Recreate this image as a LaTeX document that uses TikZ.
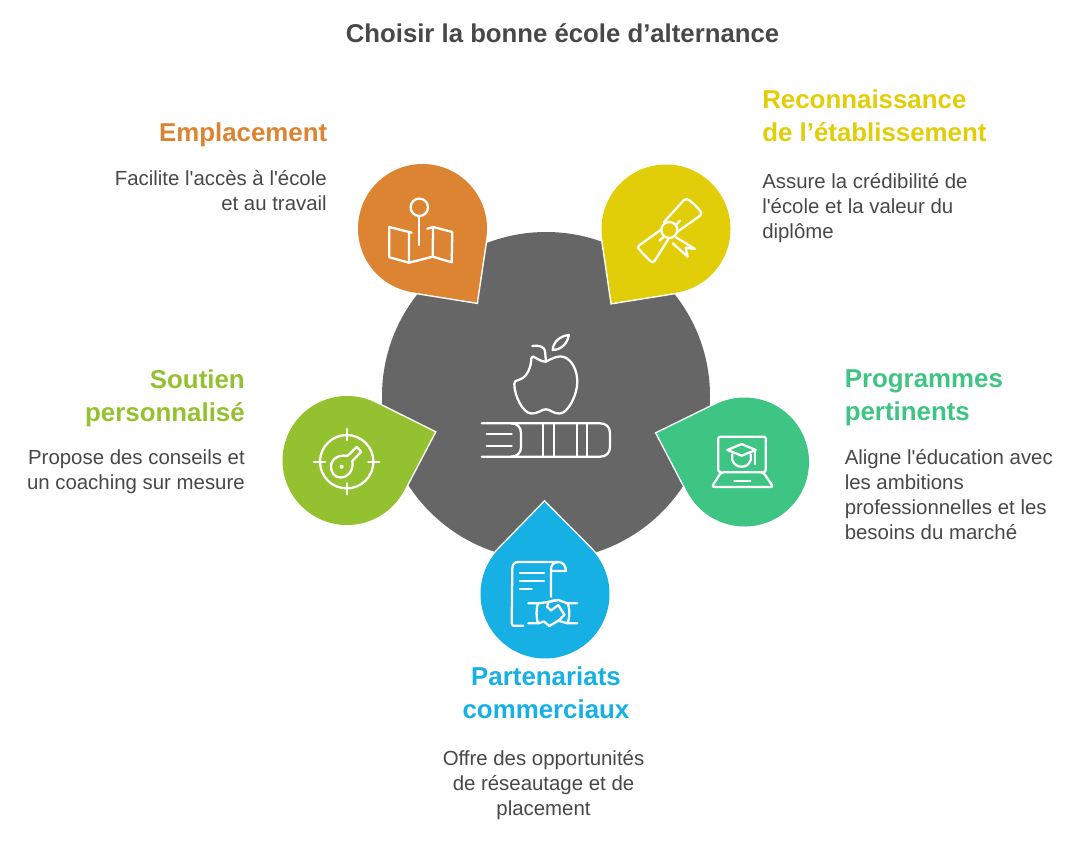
\documentclass[tikz,border=0pt]{standalone}
\usepackage{fontspec}
\newfontfamily\lab{Liberation Sans}
\definecolor{cgrey}{HTML}{666666}
\definecolor{ctext}{HTML}{484848}
\definecolor{corange}{HTML}{DD8432}
\definecolor{cyellow}{HTML}{E2CE08}
\definecolor{cgreen}{HTML}{94C12F}
\definecolor{cteal}{HTML}{3EC483}
\definecolor{cblue}{HTML}{16B0E4}
\usetikzlibrary{calc}
\newcommand{\tear}[5]{%
  \pgfmathsetmacro{\tang}{atan2(#4-#2,#3-#1)}
  \pgfmathsetmacro{\tstart}{\tang+45}
  \path[fill=#5,draw=white,line width=2.2pt,line join=miter,preaction={},postaction={}]
    (#3,#4) -- ($(#1,#2)+(\tstart:64.5)$) arc[start angle=\tstart,delta angle=270,radius=64.5] -- cycle;
  \path[fill=#5]
    (#3,#4) -- ($(#1,#2)+(\tstart:64.5)$) arc[start angle=\tstart,delta angle=270,radius=64.5] -- cycle;
}
\tikzset{
  ttl/.style={font=\lab\bfseries\fontsize{19.3}{23}\selectfont,text=ctext,inner sep=0pt},
  hd/.style={font=\lab\bfseries\fontsize{19.4}{24.75}\selectfont,inner sep=0pt},
  bd/.style={font=\lab\fontsize{15.3}{18.75}\selectfont,text=ctext,inner sep=0pt},
  ico/.style={draw=white,line width=1.7pt,line cap=round,line join=round},
}
\begin{document}
\begin{tikzpicture}[x=.75pt,y=-.75pt]
\useasboundingbox (0,0) rectangle (1089,842);
\fill[white] (0,0) rectangle (1089,842);
\node[ttl] (title) at (562.5,33) {Choisir la bonne école d’alternance};
\fill[cgrey] (546,396) circle[radius=164];
\tear{422.5}{228.5}{476.7}{302.5}{corange}
\tear{666}{229}{611.7}{303}{cyellow}
\tear{347}{460.5}{434.7}{432.2}{cgreen}
\tear{744.5}{462}{656.7}{433.2}{cteal}
\tear{545}{594}{544.5}{502}{cblue}
% orange map
\draw[ico] (419.3,207.3) circle[radius=8.7];
\draw[ico] (419.3,216.3) -- (419.3,245);
\draw[ico] (411.7,232.7) -- (389.3,227) -- (389.3,257.3) -- (409,262.7) -- (409,231.7);
\draw[ico] (409,262.7) -- (432.7,256.7) -- (451.7,262.3) -- (452.3,232) -- (433.3,227) -- (427.3,228.7);
\draw[ico] (433,227) -- (432.7,256.7);
% yellow diploma
\draw[ico] (669.3,230) circle[radius=8];
\draw[ico] (664,222) -- (684,200) .. controls (686,198.5) and (687,199) .. (689,200) .. controls (694,204) and (698,208) .. (701,212) .. controls (702,214) and (701,215) .. (699,216.5) -- (677,232);
\draw[ico] (661.5,229.3) -- (639,245.5) .. controls (637.5,247) and (638,248) .. (639,249) .. controls (643,254) and (647,258) .. (651,261.5) .. controls (652.5,262.5) and (653.5,262) .. (654.5,261) -- (668.5,239);
\draw[ico] (676,237.3) -- (695,249) -- (685.7,247.7) -- (687.7,256.7) -- (672.7,243.3);
\draw[ico] (680,220.7) -- (676,225);
\draw[ico] (659.3,240.7) -- (663.3,237.3);
% centre icon
\draw[ico] (532.3,346) .. controls (540,345) and (544,347) .. (545,351) -- (546,361.7);
\draw[ico] (552.7,350) .. controls (553,342) and (560,336) .. (568.7,335) .. controls (568,343) and (561,350) .. (552.7,350) -- cycle;
\draw[ico] (546,361.7) .. controls (552,358) and (560,355) .. (564,357) .. controls (572,360) and (577.3,370) .. (577.3,382)
  .. controls (577.3,395) and (568,413) .. (560,413.5) .. controls (553,414) and (550,409) .. (546,409.3)
  .. controls (542,409) and (538,414) .. (531,413.5) .. controls (523,413) and (514.3,396) .. (514.3,384)
  .. controls (514.3,382) and (515,381) .. (518.3,380) .. controls (526,378) and (530,370) .. (531,362)
  .. controls (531,359) and (531.5,357) .. (532.7,356.5) .. controls (537,358) and (541,362) .. (546,361.7);
\draw[ico] (481.7,423.3) -- (600,423.3) .. controls (606,423.3) and (610,427) .. (610,433) -- (610,447)
  .. controls (610,453) and (606,456.7) .. (600,456.7) -- (481.7,456.7);
\draw[ico] (511,423.3) .. controls (517,423.3) and (521,427) .. (521,433) -- (521,447) .. controls (521,453) and (517,456.7) .. (511,456.7);
\draw[ico] (486.7,434.3) -- (511.7,434.3);
\draw[ico] (486.7,445.7) -- (511.7,445.7);
\foreach \vx in {543.3,554.3,576.7,586.7} \draw[ico] (\vx,423.3) -- (\vx,456.7);
% green target key
\draw[ico] (346.7,461.7) circle[radius=26.7];
\draw[ico] (346.7,429) -- (346.7,440);
\draw[ico] (346.7,483.3) -- (346.7,494.3);
\draw[ico] (314,461.7) -- (325,461.7);
\draw[ico] (368.3,461.7) -- (379.3,461.7);
\draw[ico] (347.3,456) -- (356.7,447) -- (361.3,451.7) -- (352.3,461)
  .. controls (354,470) and (348,477.5) .. (340.5,477.5) .. controls (334,477.5) and (331,472) .. (331,466.5)
  .. controls (331,459) and (339,454) .. (347.3,456);
\fill[white] (341.7,466.7) circle[radius=2];
% teal laptop
\draw[ico,rounded corners=1.5pt] (721,472) -- (718.3,472) -- (718.3,436.7) -- (765.7,436.7) -- (765.7,472) -- (763,472);
\draw[ico,rounded corners=2pt] (721,472.3) -- (763.3,472.3) -- (773.3,487) -- (711.7,487) -- cycle;
\draw[ico] (734.3,481) -- (750.3,481);
\draw[ico] (727.3,450) -- (741.7,444) -- (755.7,450) -- (741.7,455.7) -- cycle;
\draw[ico] (732.3,454.3) -- (732.3,460) .. controls (734,465) and (738,466.7) .. (741.7,466.7) .. controls (745.5,466.7) and (749,465) .. (750.7,460) -- (750.7,454.3);
\draw[ico] (755,450) -- (755,464);
% blue contract
\draw[ico] (523.3,625.7) -- (514,625.7) .. controls (512.5,625.7) and (511.7,625) .. (511.7,623) -- (512.3,568.3)
  .. controls (512.3,564) and (515,562) .. (518.3,562) -- (558.3,562) .. controls (563,562) and (566,566) .. (566,571) -- (551,571);
\draw[ico] (558.3,562) .. controls (554,562) and (551,565) .. (551,569) -- (551,596.7);
\draw[ico] (520,572.7) -- (544,572.7);
\draw[ico] (520,581) -- (544,581);
\draw[ico] (520,589.3) -- (531.7,589.3);
\draw[ico] (528.3,603.3) -- (538.3,603.3) .. controls (536,607) and (536,619) .. (538.3,623.3) -- (528.3,623.3);
\draw[ico] (577.3,603.3) -- (567.3,603.3) .. controls (570,607) and (570,619) .. (567.3,623.3) -- (577.3,623.3);
\draw[ico] (538.3,603.3) -- (548.3,602) .. controls (552,601) and (555,599.5) .. (558.3,600) -- (567.3,603.3);
\draw[ico] (538.3,623.3) -- (544,621.5) -- (549.3,626) -- (558.3,620.7) -- (567.3,623.3);
\draw[ico] (558.3,600) -- (548.5,602) -- (547,606.7) -- (551,610.5) -- (558.3,605) -- (564.5,615) -- (558.3,620.7);
% labels
\node[hd,text=corange,anchor=north east,align=right] (h1) at (327.5,122) {Emplacement};
\node[bd,anchor=north east,align=right] (b1) at (327,170) {Facilite l'accès à l'école\\et au travail};
\node[hd,text=cyellow,anchor=north west,align=left] (h2) at (762,89) {Reconnaissance\\de l’établissement};
\node[bd,anchor=north west,align=left] (b2) at (762,173) {Assure la crédibilité de\\l'école et la valeur du\\diplôme};
\node[hd,text=cgreen,anchor=north east,align=right] (h3) at (245,369) {Soutien\\personnalisé};
\node[bd,anchor=north east,align=right] (b3) at (245,449) {Propose des conseils et\\un coaching sur mesure};
\node[hd,text=cteal,anchor=north west,align=left] (h4) at (844.5,369.5) {Programmes\\pertinents};
\node[bd,anchor=north west,align=left] (b4) at (844.5,449) {Aligne l'éducation avec\\les ambitions\\professionnelles et les\\besoins du marché};
\node[hd,text=cblue,anchor=north,align=center] (h5) at (546,666) {Partenariats\\commerciaux};
\node[bd,anchor=north,align=center] (b5) at (543.5,750) {Offre des opportunités\\de réseautage et de\\placement};
\end{tikzpicture}
\end{document}
